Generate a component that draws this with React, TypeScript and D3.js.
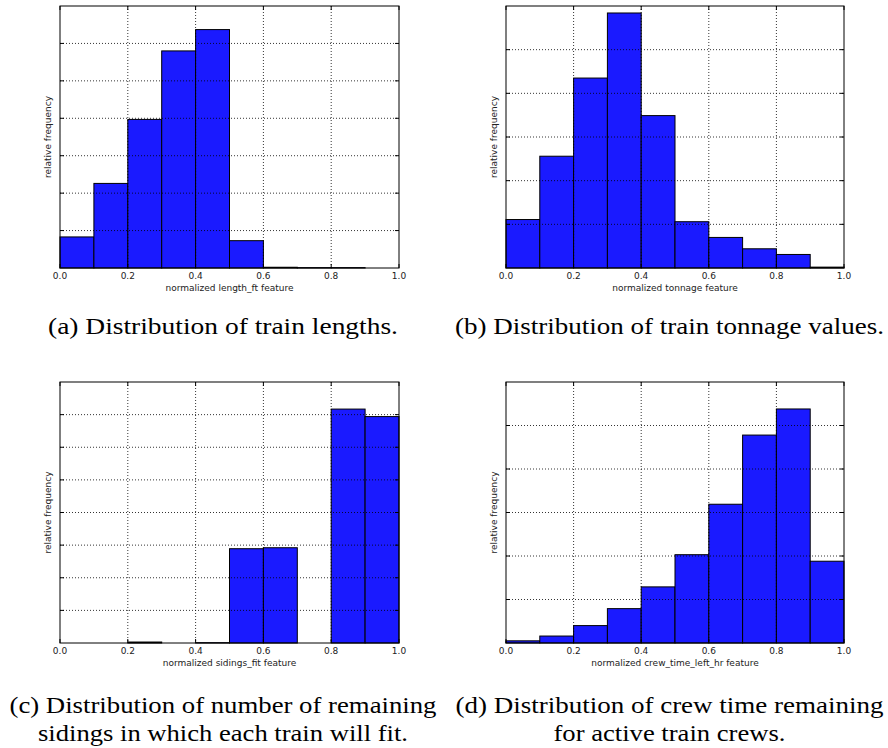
import React, { useRef, useEffect } from "react";
import * as d3 from "d3";

// histogram bins (left edges), width 0.1
const binStarts = [0.0, 0.1, 0.2, 0.3, 0.4, 0.5, 0.6, 0.7, 0.8, 0.9];
const xTicks = [0.0, 0.2, 0.4, 0.6, 0.8, 1.0];

const lengthFreq = [0.83, 2.26, 3.97, 5.8, 6.37, 0.73, 0.02, 0.01, 0.01, 0];
const tonnageFreq = [1.11, 2.56, 4.35, 5.84, 3.49, 1.06, 0.7, 0.44, 0.31, 0.02];
const sidingsFreq = [0, 0, 0.03, 0, 0.01, 2.89, 2.92, 0, 7.17, 6.94];
const crewFreq = [0.05, 0.16, 0.4, 0.79, 1.29, 2.03, 3.19, 4.78, 5.38, 1.88];

const xLabels = [
  "normalized length_ft feature",
  "normalized tonnage feature",
  "normalized sidings_fit feature",
  "normalized crew_time_left_hr feature",
];
const yMaxes = [7, 6, 8, 6];
const captions = [
  ["(a) Distribution of train lengths."],
  ["(b) Distribution of train tonnage values."],
  ["(c) Distribution of number of remaining", "sidings in which each train will fit."],
  ["(d) Distribution of crew time remaining", "for active train crews."],
];
// measured caption widths (px) in the reference
const captionWidths = [[350], [429], [427, 370], [428, 232]];

const App = () => {
  const ref = useRef(null);

  useEffect(() => {
    const svg = d3.select(ref.current);
    svg.selectAll("*").remove();

    const series = [lengthFreq, tonnageFreq, sidingsFreq, crewFreq];
    const boxes = [
      { left: 60, right: 399, top: 6, bottom: 268 },
      { left: 506, right: 844, top: 6, bottom: 268 },
      { left: 60, right: 399, top: 382, bottom: 643 },
      { left: 506, right: 844, top: 382, bottom: 643 },
    ];

    series.forEach((data, i) => {
      const b = boxes[i];
      const x = d3.scaleLinear().domain([0, 1]).range([b.left, b.right]);
      const y = d3.scaleLinear().domain([0, yMaxes[i]]).range([b.bottom, b.top]);
      const g = svg.append("g");

      // bars
      g.selectAll(".bar")
        .data(data)
        .enter()
        .append("rect")
        .attr("x", (d, j) => x(binStarts[j]))
        .attr("width", (d, j) => x(binStarts[j] + 0.1) - x(binStarts[j]))
        .attr("y", (d) => y(d))
        .attr("height", (d) => y(0) - y(d))
        .attr("fill", "#1a1aff")
        .attr("stroke", "#000")
        .attr("stroke-width", 1);

      const yTicks = d3.range(1, yMaxes[i]);
      // grid, drawn over the bars
      g.selectAll(".gy")
        .data(yTicks)
        .enter()
        .append("line")
        .attr("x1", b.left)
        .attr("x2", b.right)
        .attr("y1", (d) => y(d))
        .attr("y2", (d) => y(d))
        .attr("stroke", "#000")
        .attr("stroke-width", 0.8)
        .attr("stroke-dasharray", "1,2");
      g.selectAll(".gx")
        .data(xTicks.slice(1, -1))
        .enter()
        .append("line")
        .attr("x1", (d) => x(d))
        .attr("x2", (d) => x(d))
        .attr("y1", b.top)
        .attr("y2", b.bottom)
        .attr("stroke", "#000")
        .attr("stroke-width", 0.8)
        .attr("stroke-dasharray", "1,2");

      // inward ticks
      yTicks.forEach((t) => {
        g.append("line").attr("x1", b.left).attr("x2", b.left + 4)
          .attr("y1", y(t)).attr("y2", y(t)).attr("stroke", "#000");
        g.append("line").attr("x1", b.right).attr("x2", b.right - 4)
          .attr("y1", y(t)).attr("y2", y(t)).attr("stroke", "#000");
      });
      xTicks.forEach((t) => {
        g.append("line").attr("x1", x(t)).attr("x2", x(t))
          .attr("y1", b.bottom).attr("y2", b.bottom - 4).attr("stroke", "#000");
        g.append("line").attr("x1", x(t)).attr("x2", x(t))
          .attr("y1", b.top).attr("y2", b.top + 4).attr("stroke", "#000");
      });

      // frame
      g.append("rect")
        .attr("x", b.left)
        .attr("y", b.top)
        .attr("width", b.right - b.left)
        .attr("height", b.bottom - b.top)
        .attr("fill", "none")
        .attr("stroke", "#000")
        .attr("stroke-width", 1);

      // tick labels
      g.selectAll(".tl")
        .data(xTicks)
        .enter()
        .append("text")
        .attr("x", (d) => x(d))
        .attr("y", b.bottom + 11)
        .attr("text-anchor", "middle")
        .style("font-family", "DejaVu Sans")
        .style("font-size", "9px")
        .style("fill", "#222")
        .text((d) => d.toFixed(1));

      g.append("text")
        .attr("x", (b.left + b.right) / 2)
        .attr("y", b.bottom + 23)
        .attr("text-anchor", "middle")
        .style("font-family", "DejaVu Sans")
        .style("font-size", "9px")
        .style("fill", "#222")
        .text(xLabels[i]);

      g.append("text")
        .attr("transform", `translate(${b.left - 9},${(b.top + b.bottom) / 2}) rotate(-90)`)
        .attr("text-anchor", "middle")
        .style("font-family", "DejaVu Sans")
        .style("font-size", "9px")
        .style("fill", "#222")
        .text("relative frequency");

      // caption
      const cx = (i % 2 === 0) ? 223 : 669.5;
      const cy = i < 2 ? 334 : 713;
      captions[i].forEach((line, k) => {
        svg.append("text")
          .attr("x", cx)
          .attr("y", cy + k * 28)
          .attr("text-anchor", "middle")
          .attr("textLength", captionWidths[i][k])
          .attr("lengthAdjust", "spacingAndGlyphs")
          .style("font-family", "Liberation Serif")
          .style("font-size", "24px")
          .style("fill", "#000")
          .text(line);
      });
    });
  }, []);

  return (
    <svg
      ref={ref}
      width={888}
      height={748}
      style={{ position: "absolute", left: 0, top: 0, background: "#fff" }}
    />
  );
};

export default App;
